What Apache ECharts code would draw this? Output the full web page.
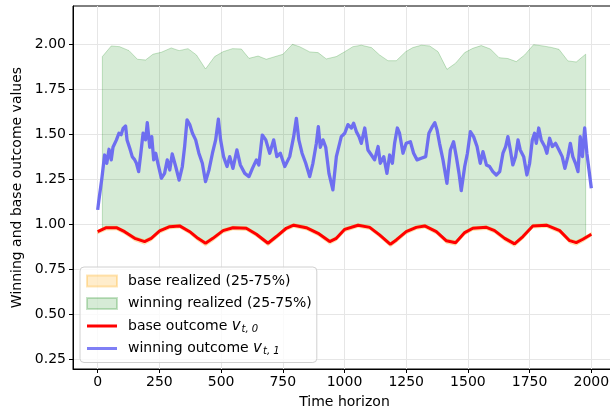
<!DOCTYPE html>
<html>
<head>
<meta charset="utf-8">
<script src="https://cdn.jsdelivr.net/npm/echarts@6/dist/echarts.min.js"></script>
<style>html,body{margin:0;padding:0;background:#fff}#c{width:610px;height:416px}</style>
</head>
<body>
<div id="c"></div>
<script>
// ---- data ----
const xTicks = [0, 250, 500, 750, 1000, 1250, 1500, 1750, 2000];
const yTicks = [0.25, 0.5, 0.75, 1.0, 1.25, 1.5, 1.75, 2.0];

// base outcome v_{t,0}
const baseT = [0,35,76,109,150,190,217,251,292,332,373,406,437,467,508,548,602,643,690,724,764,794,845,893,940,967,1001,1055,1102,1142,1186,1210,1250,1291,1325,1372,1412,1450,1487,1520,1575,1608,1649,1689,1723,1763,1818,1872,1912,1939,1966,2000];
const baseV = [0.957,0.979,0.979,0.957,0.92,0.902,0.92,0.961,0.985,0.989,0.957,0.92,0.893,0.92,0.963,0.979,0.976,0.943,0.893,0.93,0.976,0.993,0.979,0.948,0.902,0.92,0.97,0.993,0.981,0.939,0.887,0.911,0.957,0.981,0.989,0.957,0.907,0.896,0.952,0.976,0.981,0.963,0.92,0.889,0.93,0.989,0.993,0.963,0.907,0.896,0.915,0.943];

// base realized 25-75% band
const baseLoV = [0.945,0.966,0.967,0.944,0.906,0.887,0.906,0.948,0.973,0.977,0.944,0.906,0.878,0.905,0.95,0.967,0.964,0.93,0.879,0.916,0.963,0.981,0.967,0.935,0.888,0.906,0.957,0.981,0.969,0.926,0.873,0.897,0.944,0.969,0.977,0.944,0.893,0.882,0.939,0.964,0.969,0.95,0.906,0.875,0.916,0.977,0.981,0.95,0.893,0.882,0.901,0.932];
const baseHiV = [0.965,0.988,0.988,0.966,0.93,0.912,0.93,0.97,0.994,0.998,0.966,0.93,0.903,0.93,0.972,0.988,0.985,0.952,0.903,0.94,0.985,1.002,0.988,0.957,0.912,0.93,0.979,1.002,0.99,0.948,0.897,0.921,0.966,0.99,0.998,0.966,0.917,0.906,0.961,0.985,0.99,0.972,0.93,0.899,0.94,0.998,1.002,0.972,0.917,0.906,0.925,0.952];

// winning realized 25-75% band
const winHiT = [19,55,89,127,161,194,224,258,298,330,366,400,437,474,508,546,582,613,650,683,751,789,818,859,893,926,967,1001,1034,1068,1109,1142,1176,1210,1248,1277,1311,1345,1379,1415,1450,1487,1520,1554,1591,1626,1662,1696,1730,1766,1804,1838,1869,1905,1939,1977];
const winHiV = [1.93,1.989,1.985,1.963,1.915,1.911,1.943,1.954,1.978,1.963,1.974,1.939,1.861,1.93,1.957,1.974,1.972,1.92,1.933,1.915,1.943,1.998,1.985,1.956,1.952,1.917,1.93,1.957,1.985,1.993,1.98,1.939,1.907,1.907,1.957,1.98,1.993,1.989,1.957,1.859,1.893,1.952,1.976,1.991,1.972,1.924,1.919,1.902,1.939,1.996,1.989,1.981,1.97,1.906,1.9,1.943];
const winLoT = [19,35,76,109,150,190,217,251,292,332,373,406,437,467,508,548,602,643,690,724,764,794,845,893,940,967,1001,1055,1102,1142,1186,1210,1250,1291,1325,1372,1412,1450,1487,1520,1575,1608,1649,1689,1723,1763,1818,1872,1912,1939,1966,1977];
const winLoV = [0.972,0.982,0.982,0.96,0.923,0.905,0.923,0.964,0.988,0.992,0.96,0.923,0.896,0.923,0.966,0.982,0.979,0.946,0.896,0.933,0.979,0.996,0.982,0.951,0.905,0.923,0.973,0.996,0.984,0.942,0.89,0.914,0.96,0.984,0.992,0.96,0.91,0.899,0.955,0.979,0.984,0.966,0.923,0.892,0.933,0.992,0.996,0.966,0.91,0.899,0.918,0.928];

// winning outcome v_{t,1}
const winT = [0,5,17,28,37,46,55,62,76,86,95,103,113,119,130,140,150,157,166,174,184,194,201,211,219,227,235,244,258,271,282,292,302,316,330,343,352,362,373,384,397,410,424,437,451,465,478,489,498,510,524,535,548,564,578,596,613,627,643,653,667,681,697,713,726,740,758,778,794,805,815,828,843,859,872,886,894,902,913,924,937,953,967,987,1001,1014,1028,1037,1048,1059,1068,1082,1095,1109,1122,1136,1145,1159,1172,1183,1194,1203,1214,1223,1237,1250,1267,1280,1294,1311,1329,1342,1356,1366,1375,1385,1399,1415,1429,1442,1453,1464,1473,1487,1498,1510,1523,1537,1550,1561,1575,1588,1601,1615,1629,1642,1653,1662,1672,1682,1693,1703,1712,1726,1739,1750,1761,1770,1777,1787,1797,1811,1820,1831,1842,1855,1869,1882,1893,1905,1915,1925,1936,1946,1955,1964,1973,1982,2000];
const winV = [1.078,1.133,1.254,1.383,1.337,1.415,1.356,1.426,1.467,1.504,1.496,1.531,1.544,1.467,1.42,1.374,1.356,1.337,1.291,1.383,1.504,1.467,1.563,1.426,1.485,1.356,1.393,1.337,1.254,1.281,1.356,1.30,1.389,1.319,1.244,1.319,1.426,1.578,1.552,1.504,1.467,1.393,1.337,1.235,1.30,1.393,1.467,1.582,1.467,1.374,1.319,1.374,1.309,1.411,1.328,1.281,1.263,1.309,1.356,1.328,1.494,1.467,1.393,1.467,1.374,1.393,1.319,1.374,1.485,1.587,1.467,1.393,1.337,1.263,1.337,1.448,1.541,1.426,1.467,1.426,1.281,1.189,1.374,1.485,1.504,1.552,1.533,1.56,1.513,1.485,1.448,1.533,1.411,1.383,1.356,1.43,1.337,1.374,1.281,1.383,1.337,1.448,1.533,1.504,1.393,1.448,1.457,1.393,1.356,1.365,1.374,1.504,1.541,1.563,1.522,1.448,1.356,1.226,1.411,1.457,1.374,1.281,1.185,1.319,1.393,1.513,1.485,1.43,1.337,1.402,1.328,1.319,1.291,1.272,1.291,1.393,1.43,1.485,1.411,1.328,1.374,1.467,1.411,1.374,1.272,1.337,1.467,1.504,1.448,1.533,1.467,1.43,1.393,1.476,1.43,1.448,1.411,1.374,1.309,1.374,1.448,1.374,1.337,1.291,1.485,1.374,1.533,1.393,1.198];

const names = ['base realized (25-75%)', 'winning realized (25-75%)', 'base outcome', 'winning outcome'];

// ---- chart ----
const FONT = 'DejaVu Sans';
const FS = 14;
const zip = (a, b) => a.map((t, i) => [t, b[i]]);

function bandRenderer(tU, vU, tL, vL, fill, stroke) {
  return function (params, api) {
    if (params.dataIndex !== 0) return null;
    const pts = [];
    for (let i = 0; i < tU.length; i++) pts.push(api.coord([tU[i], vU[i]]));
    for (let i = tL.length - 1; i >= 0; i--) pts.push(api.coord([tL[i], vL[i]]));
    return { type: 'polygon', shape: { points: pts }, style: { fill: fill, stroke: stroke, lineWidth: 1 } };
  };
}

const greenFill = 'rgba(0,128,0,0.16)', greenEdge = 'rgba(0,128,0,0.22)';
const orangeFill = 'rgba(255,165,0,0.2)', orangeEdge = 'rgba(255,165,0,0.28)';
const lineIcon = 'path://M0,0H30V3H0Z';

const chart = echarts.init(document.getElementById('c'), null, { renderer: 'canvas' });
chart.setOption({
  animation: false,
  backgroundColor: '#fff',
  textStyle: { fontFamily: FONT },
  grid: { left: 73, top: 6, width: 543, height: 363, show: true, borderColor: '#000', borderWidth: 1, outerBoundsMode: 'none', containLabel: false },
  xAxis: {
    type: 'value', min: -100, max: 2100,
    name: 'Time horizon', nameLocation: 'middle', nameGap: 26,
    nameTextStyle: { fontSize: FS, color: '#000', fontFamily: FONT },
    axisLine: { show: true, onZero: false, lineStyle: { color: '#000', width: 1 } },
    axisTick: { show: true, length: 4, customValues: xTicks, lineStyle: { color: '#000' } },
    axisLabel: { customValues: xTicks, fontSize: FS, color: '#000', margin: 6, fontFamily: FONT,
      formatter: v => String(v) },
    splitLine: { show: true, lineStyle: { color: '#e6e6e6', width: 1 } }
  },
  yAxis: {
    type: 'value', min: 0.194, max: 2.211,
    name: 'Winning and base outcome values', nameLocation: 'middle', nameGap: 47,
    nameTextStyle: { fontSize: FS, color: '#000', fontFamily: FONT },
    axisLine: { show: true, onZero: false, lineStyle: { color: '#000', width: 1 } },
    axisTick: { show: true, length: 4, customValues: yTicks, lineStyle: { color: '#000' } },
    axisLabel: { customValues: yTicks, fontSize: FS, color: '#000', margin: 7, fontFamily: FONT,
      formatter: v => v.toFixed(2) },
    splitLine: { show: true, lineStyle: { color: '#e6e6e6', width: 1 } }
  },
  legend: {
    orient: 'vertical', left: 80, top: 267,
    padding: [6, 5, 6, 6], itemGap: 6.5, itemWidth: 30, itemHeight: 11,
    symbolKeepAspect: true,
    backgroundColor: 'rgba(255,255,255,0.8)', borderColor: '#d0d0d0', borderWidth: 1, borderRadius: 4,
    data: [
      { name: names[0], icon: 'rect' },
      { name: names[1], icon: 'rect' },
      { name: names[2], icon: lineIcon },
      { name: names[3], icon: lineIcon }
    ],
    formatter: function (n) {
      if (n === names[2]) return '{n|base outcome }{i|v}{s|t, 0}';
      if (n === names[3]) return '{n|winning outcome }{i|v}{s|t, 1}';
      return '{n|' + n + '}';
    },
    textStyle: {
      fontSize: FS, color: '#000', fontFamily: FONT, lineHeight: 16,
      rich: {
        n: { fontSize: FS, color: '#000', fontFamily: FONT, lineHeight: 16, padding: [0, 0, 0, 6] },
        i: { fontSize: 15, color: '#000', fontFamily: FONT, fontStyle: 'italic', lineHeight: 16 },
        s: { fontSize: 10, color: '#000', fontFamily: FONT, fontStyle: 'italic', lineHeight: 16, verticalAlign: 'bottom', padding: [5, 0, 0, 1] }
      }
    }
  },
  series: [
    {
      name: names[1], type: 'custom', z: 1, data: [[0, 1]],
      itemStyle: { color: greenFill, borderColor: greenEdge, borderWidth: 1 },
      renderItem: bandRenderer(winHiT, winHiV, winLoT, winLoV, greenFill, greenEdge)
    },
    {
      name: names[0], type: 'custom', z: 2, data: [[0, 1]],
      itemStyle: { color: orangeFill, borderColor: orangeEdge, borderWidth: 1 },
      renderItem: bandRenderer(baseT, baseHiV, baseT, baseLoV, orangeFill, orangeEdge)
    },
    {
      name: names[2], type: 'line', z: 3, symbol: 'none', data: zip(baseT, baseV),
      lineStyle: { color: '#ff0000', width: 3 }, itemStyle: { color: '#ff0000' }
    },
    {
      name: names[3], type: 'line', z: 4, symbol: 'none', data: zip(winT, winV),
      lineStyle: { color: '#6e6ef0', width: 3.3, join: 'round' }, itemStyle: { color: '#7f7ff5' }
    }
  ]
});
</script>
</body>
</html>
